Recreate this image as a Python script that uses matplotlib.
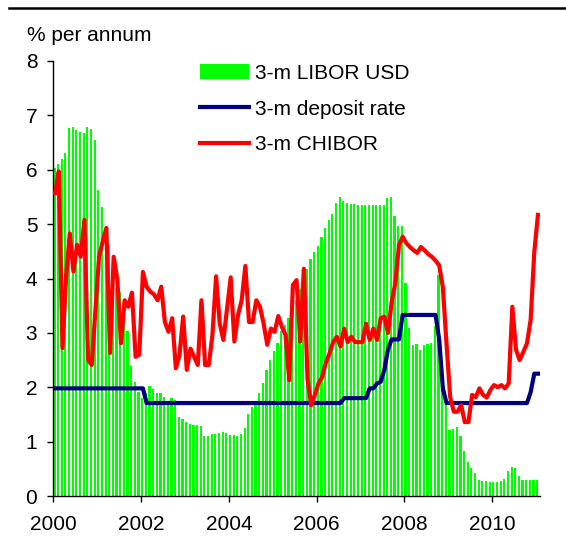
import numpy as np
import matplotlib
matplotlib.use("Agg")
import matplotlib.pyplot as plt
from matplotlib.lines import Line2D

plt.rcParams["font.family"] = ["Liberation Sans", "DejaVu Sans"]

# monthly data, Jan 2000 .. Jan 2011
start_year = 2000

libor_usd = [
    6.04, 6.10, 6.20, 6.31, 6.76, 6.79, 6.73, 6.69, 6.68, 6.78, 6.75, 6.55,  # 2000
    5.63, 5.32, 4.96, 4.62, 4.11, 3.83, 3.75, 3.56, 3.03, 2.40, 2.10, 1.92,  # 2001
    1.80, 1.89, 2.02, 1.97, 1.90, 1.89, 1.82, 1.75, 1.80, 1.77, 1.46, 1.41,  # 2002
    1.36, 1.33, 1.30, 1.30, 1.29, 1.11, 1.11, 1.14, 1.14, 1.16, 1.17, 1.16,  # 2003
    1.12, 1.12, 1.11, 1.15, 1.25, 1.50, 1.63, 1.73, 1.90, 2.08, 2.31, 2.50,  # 2004
    2.66, 2.82, 3.03, 3.15, 3.27, 3.43, 3.61, 3.80, 3.86, 4.17, 4.35, 4.49,  # 2005
    4.60, 4.76, 4.92, 5.07, 5.18, 5.38, 5.50, 5.42, 5.38, 5.37, 5.37, 5.36,  # 2006
    5.36, 5.36, 5.35, 5.35, 5.36, 5.36, 5.36, 5.48, 5.49, 5.15, 4.96, 4.97,  # 2007
    3.92, 3.09, 2.78, 2.79, 2.69, 2.77, 2.79, 2.81, 3.12, 4.06, 2.28, 1.83,  # 2008
    1.21, 1.24, 1.27, 1.11, 0.82, 0.62, 0.51, 0.42, 0.30, 0.28, 0.27, 0.25,  # 2009
    0.25, 0.25, 0.27, 0.31, 0.46, 0.54, 0.51, 0.36, 0.29, 0.29, 0.29, 0.30,  # 2010
    0.30,                                                                    # 2011
]

deposit_rate = [
    1.98, 1.98, 1.98, 1.98, 1.98, 1.98, 1.98, 1.98, 1.98, 1.98, 1.98, 1.98,  # 2000
    1.98, 1.98, 1.98, 1.98, 1.98, 1.98, 1.98, 1.98, 1.98, 1.98, 1.98, 1.98,  # 2001
    1.98, 1.71, 1.71, 1.71, 1.71, 1.71, 1.71, 1.71, 1.71, 1.71, 1.71, 1.71,  # 2002
    1.71, 1.71, 1.71, 1.71, 1.71, 1.71, 1.71, 1.71, 1.71, 1.71, 1.71, 1.71,  # 2003
    1.71, 1.71, 1.71, 1.71, 1.71, 1.71, 1.71, 1.71, 1.71, 1.71, 1.71, 1.71,  # 2004
    1.71, 1.71, 1.71, 1.71, 1.71, 1.71, 1.71, 1.71, 1.71, 1.71, 1.71, 1.71,  # 2005
    1.71, 1.71, 1.71, 1.71, 1.71, 1.71, 1.71, 1.80, 1.80, 1.80, 1.80, 1.80,  # 2006
    1.80, 1.80, 1.98, 1.98, 2.07, 2.10, 2.32, 2.70, 2.88, 2.88, 2.88, 3.33,  # 2007
    3.33, 3.33, 3.33, 3.33, 3.33, 3.33, 3.33, 3.33, 3.33, 2.88, 1.98, 1.71,  # 2008
    1.71, 1.71, 1.71, 1.71, 1.71, 1.71, 1.71, 1.71, 1.71, 1.71, 1.71, 1.71,  # 2009
    1.71, 1.71, 1.71, 1.71, 1.71, 1.71, 1.71, 1.71, 1.71, 1.71, 1.91, 2.25,  # 2010
    2.25,                                                                    # 2011
]

chibor = [
    5.57, 5.97, 2.72, 4.04, 4.83, 4.13, 4.62, 4.40, 5.08, 2.50, 2.41, 3.40,  # 2000
    4.40, 4.68, 4.93, 2.63, 4.40, 3.98, 2.81, 3.60, 3.48, 3.74, 2.56, 2.60,  # 2001
    4.12, 3.85, 3.76, 3.71, 3.60, 3.85, 3.20, 3.02, 3.27, 2.35, 2.59, 3.30,  # 2002
    2.32, 2.71, 2.56, 2.41, 3.60, 2.41, 2.41, 2.96, 4.04, 3.17, 2.87, 3.45,  # 2003
    4.02, 2.84, 3.33, 3.60, 4.23, 3.20, 3.20, 3.60, 3.48, 3.17, 2.78, 3.08,  # 2004
    3.02, 3.31, 3.11, 2.96, 2.13, 3.88, 3.97, 2.84, 4.18, 2.15, 1.67, 1.86,  # 2005
    2.07, 2.19, 2.45, 2.62, 2.83, 2.93, 2.75, 3.08, 2.83, 2.93, 2.83, 2.83,  # 2006
    2.83, 3.17, 2.87, 3.08, 2.87, 3.27, 3.30, 3.00, 3.57, 3.91, 4.61, 4.77,  # 2007
    4.65, 4.58, 4.52, 4.47, 4.58, 4.52, 4.45, 4.40, 4.33, 4.24, 3.84, 2.80,  # 2008
    1.82, 1.55, 1.55, 1.67, 1.36, 1.36, 1.86, 1.82, 1.98, 1.86, 1.81, 1.95,  # 2009
    2.04, 2.00, 2.04, 1.98, 2.07, 3.48, 2.69, 2.50, 2.65, 2.81, 3.24, 4.49,  # 2010
    5.17,                                                                    # 2011
]

year_ticks = [2000, 2002, 2004, 2006, 2008, 2010]

months = np.arange(len(libor_usd))
x_start = start_year + months / 12.0      # bar left edges
x_mid = x_start + 0.5 / 12.0              # line points at mid-month

fig = plt.figure(figsize=(5.66, 5.53), dpi=100)
ax = fig.add_axes([0.0942, 0.103, 0.8600, 0.7867])

bars = ax.bar(x_start, libor_usd, width=0.6 / 12, align="edge", color="#00ff00",
              linewidth=0, label="3-m LIBOR USD", zorder=1)
dep_line, = ax.plot(x_mid, deposit_rate, color="#000080", linewidth=3.0,
                    label="3-m deposit rate", zorder=2)
chi_line, = ax.plot(x_mid, chibor, color="#ff0000", linewidth=3.0,
                    label="3-m CHIBOR", zorder=3)

ax.set_xlim(2000, 2011.09)
ax.set_ylim(0, 8)
ax.set_xticks(year_ticks)
ax.set_xticklabels([str(y) for y in year_ticks])
ax.set_yticks(range(0, 9))

for side in ["top", "right"]:
    ax.spines[side].set_visible(False)
for side in ["left", "bottom"]:
    ax.spines[side].set_linewidth(1.0)

ax.tick_params(axis="both", direction="out", length=4.5, width=1.0,
               labelsize=15, colors="black")
ax.tick_params(axis="y", pad=7)
ax.tick_params(axis="x", pad=9)

fig.text(27 / 566, 1 - 41 / 553, "% per annum", fontsize=15, va="baseline")

# rule across the top
fig.add_artist(Line2D([9 / 566, 1.0], [1 - 7.5 / 553, 1 - 7.5 / 553],
                      color="black", linewidth=1.8))

fig.legend(handles=[bars, dep_line, chi_line],
           loc="upper left", bbox_to_anchor=(200 / 566, 1 - 64 / 553),
           frameon=False, fontsize=15, handlelength=2.35, handletextpad=0.3,
           labelspacing=0.80, borderpad=0, borderaxespad=0)

fig.savefig("out.png", dpi=100)
